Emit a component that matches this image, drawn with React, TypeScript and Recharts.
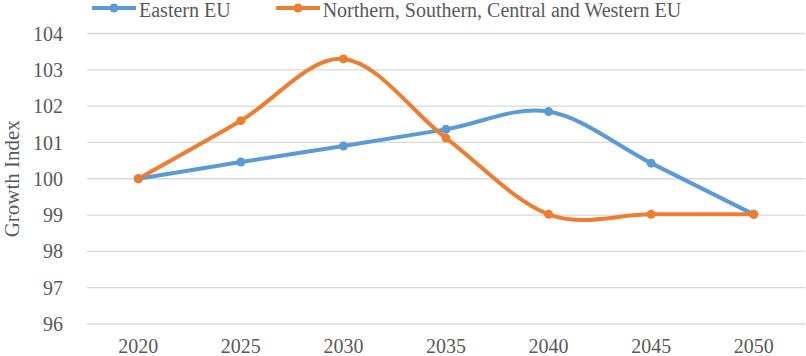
import { CartesianGrid, Legend, Line, LineChart, XAxis, YAxis } from "recharts"

const years = ["2020", "2025", "2030", "2035", "2040", "2045", "2050"]
const eastern = [100, 100.46, 100.9, 101.36, 101.85, 100.43, 99.02]
const otherEu = [100, 101.6, 103.3, 101.12, 99.02, 99.02, 99.02]
const yTicks = [96, 97, 98, 99, 100, 101, 102, 103, 104]

const BLUE = "#5B9BD5"
const ORANGE = "#ED7D31"
const TEXT = "#595959"
const GRID = "#D9D9D9"
const FONT = "Liberation Serif"

const data = years.map((year, i) => ({
  year,
  eastern: eastern[i],
  other: otherEu[i],
}))

// boundaries between categories, where the spreadsheet-style ticks sit
const edgeTicks = years.map((_, i) => i).concat(years.length)

/** Excel-like smoothing: Catmull-Rom segments drawn as cubic Beziers. */
function smoothCurve(context: any) {
  let pts: number[][] = []
  return {
    areaStart() {},
    areaEnd() {},
    lineStart() {
      pts = []
    },
    point(x: number, y: number) {
      pts.push([+x, +y])
    },
    lineEnd() {
      if (!pts.length) return
      context.moveTo(pts[0][0], pts[0][1])
      for (let i = 0; i < pts.length - 1; i++) {
        const p0 = pts[i - 1] || pts[i]
        const p1 = pts[i]
        const p2 = pts[i + 1]
        const p3 = pts[i + 2] || pts[i + 1]
        context.bezierCurveTo(
          p1[0] + (p2[0] - p0[0]) / 6,
          p1[1] + (p2[1] - p0[1]) / 6,
          p2[0] - (p3[0] - p1[0]) / 6,
          p2[1] - (p3[1] - p1[1]) / 6,
          p2[0],
          p2[1],
        )
      }
    },
  }
}

function LegendContent({ payload }: { payload?: Array<{ value: string; color: string }> }) {
  if (!payload) return null
  return (
    <div
      style={{
        display: "flex",
        height: 20,
        lineHeight: "20px",
        fontSize: 20,
        fontFamily: FONT,
        color: TEXT,
        paddingLeft: 92,
      }}
    >
      {payload.map((p) => (
        <div key={p.value} style={{ display: "flex", alignItems: "center", marginRight: 45 }}>
          <svg width={44} height={20} style={{ marginRight: 3 }}>
            <line x1={0} y1={8} x2={44} y2={8} stroke={p.color} strokeWidth={4} />
            <circle cx={22} cy={8} r={4.5} fill={p.color} />
          </svg>
          <span style={{ whiteSpace: "nowrap" }}>{p.value}</span>
        </div>
      ))}
    </div>
  )
}

function YLabel({ viewBox }: any) {
  const cx = 19
  const cy = viewBox.y + viewBox.height / 2
  return (
    <text
      x={cx}
      y={cy}
      transform={`rotate(-90 ${cx} ${cy})`}
      textAnchor="middle"
      fill={TEXT}
      fontFamily={FONT}
      fontSize={21}
    >
      Growth Index
    </text>
  )
}

export default function App() {
  const tickStyle = { fontSize: 20, fill: TEXT, fontFamily: FONT }
  return (
    <div
      style={{
        position: "absolute",
        left: 0,
        top: 0,
        width: 806,
        height: 356,
        background: "#fff",
        fontFamily: FONT,
      }}
    >
      <LineChart
        width={806}
        height={356}
        data={data}
        margin={{ top: 13.5, right: 1, bottom: 0, left: 0 }}
      >
        <CartesianGrid vertical={false} stroke={GRID} strokeWidth={1.3} />
        <XAxis
          xAxisId="edges"
          type="number"
          domain={[0, years.length]}
          ticks={edgeTicks}
          allowDataOverflow
          height={0}
          axisLine={{ stroke: GRID, strokeWidth: 1.3 }}
          tickLine={{ stroke: GRID, strokeWidth: 1.3 }}
          tickSize={5}
          tick={() => null}
        />
        <XAxis
          dataKey="year"
          scale="band"
          height={32}
          axisLine={false}
          tickLine={false}
          tickSize={0}
          tickMargin={14.5}
          tick={tickStyle}
          interval={0}
        />
        <YAxis
          domain={[96, 104]}
          ticks={yTicks}
          width={87}
          axisLine={false}
          tickLine={false}
          tickSize={0}
          tickMargin={24}
          tick={tickStyle}
          label={{ content: <YLabel /> }}
        />
        <Legend
          verticalAlign="top"
          align="left"
          wrapperStyle={{ top: 0, left: 0, width: 806 }}
          content={<LegendContent />}
        />
        <Line
          dataKey="eastern"
          name="Eastern EU"
          type={smoothCurve as any}
          stroke={BLUE}
          strokeWidth={4}
          dot={{ r: 4.5, fill: BLUE, stroke: BLUE, strokeWidth: 0 }}
          activeDot={false}
          isAnimationActive={false}
        />
        <Line
          dataKey="other"
          name="Northern, Southern, Central and Western EU"
          type={smoothCurve as any}
          stroke={ORANGE}
          strokeWidth={4}
          dot={{ r: 4.5, fill: ORANGE, stroke: ORANGE, strokeWidth: 0 }}
          activeDot={false}
          isAnimationActive={false}
        />
      </LineChart>
    </div>
  )
}
